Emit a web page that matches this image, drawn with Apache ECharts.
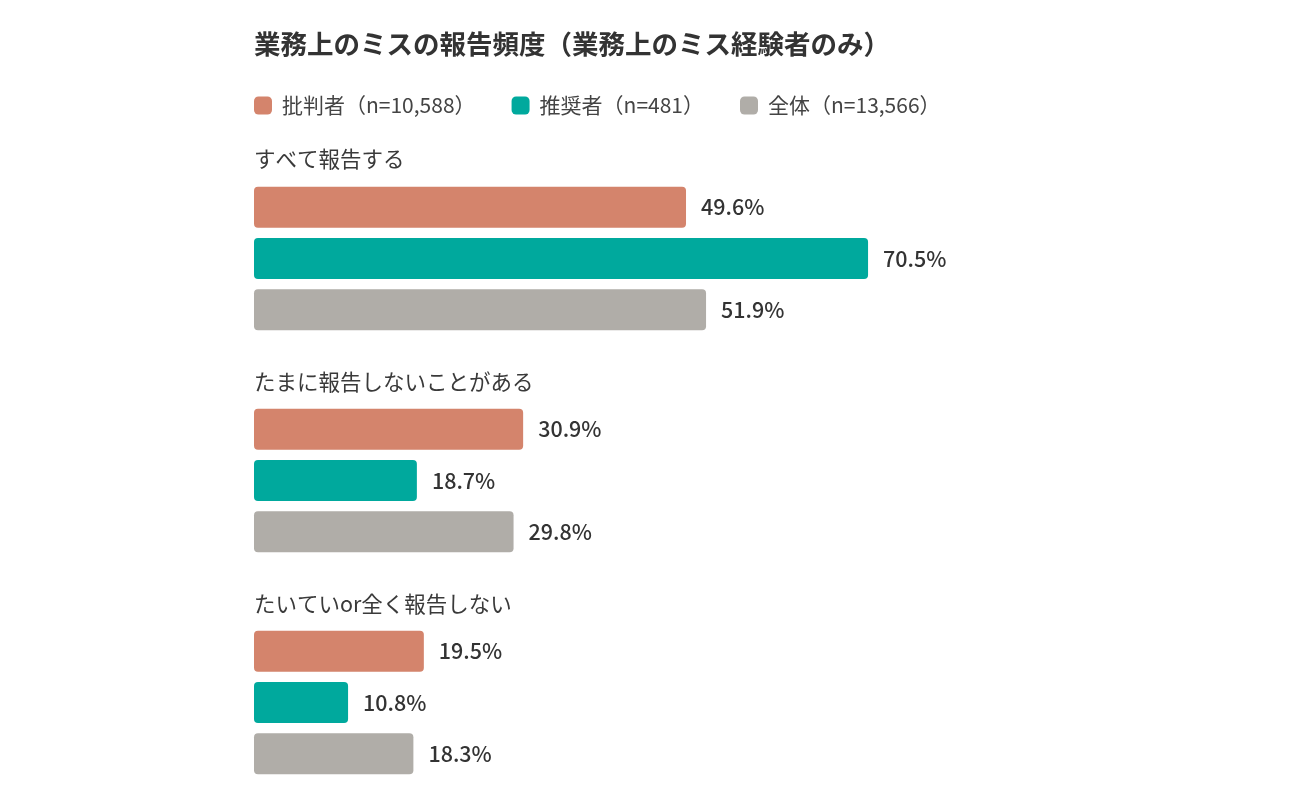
<!DOCTYPE html>
<html>
<head>
<meta charset="utf-8">
<script src="https://cdn.jsdelivr.net/npm/echarts@6/dist/echarts.min.js"></script>
<style>
    html, body { margin: 0; padding: 0; background: #ffffff; }
    #chart { width: 1300px; height: 800px; }
</style>
</head>
<body>
<div id="chart"></div>
<script>
// グループ(設問の選択肢)
const categories = ['すべて報告する', 'たまに報告しないことがある', 'たいていor全く報告しない']
// 凡例名
const seriesNames = ['批判者（n=10,588）', '推奨者（n=481）', '全体（n=13,566）']
// 各系列の値(%)
const critics = [49.6, 30.9, 19.5]
const promoters = [70.5, 18.7, 10.8]
const overall = [51.9, 29.8, 18.3]

const values = [critics, promoters, overall]
const colors = ['#d4846c', '#00a99d', '#b0ada8']
const font = '"Noto Sans CJK JP", "Noto Sans", sans-serif'

// グループごとのグリッド位置
const gridTops = [181, 403, 625]
const headerTops = [143, 366, 588]

const chart = echarts.init(document.getElementById('chart'))

const grids = []
const xAxes = []
const yAxes = []
const titles = [{
    text: '業務上のミスの報告頻度（業務上のミス経験者のみ）',
    left: 249,
    top: 26,
    textStyle: { fontFamily: font, fontSize: 26.5, fontWeight: 'bold', color: '#333333' }
}]
const series = []

categories.forEach((cat, g) => {
    grids.push({ left: 254, width: 871, top: gridTops[g], height: 155 })
    xAxes.push({ gridIndex: g, type: 'value', min: 0, max: 100, show: false })
    yAxes.push({ gridIndex: g, type: 'category', data: [cat], inverse: true, show: false })
    // 見出し
    titles.push({
        text: cat,
        left: 249,
        top: headerTops[g],
        textStyle: { fontFamily: font, fontSize: 21.5, fontWeight: 'normal', color: '#3a3a3a' }
    })
    values.forEach((vals, s) => {
        series.push({
            name: seriesNames[s],
            type: 'bar',
            xAxisIndex: g,
            yAxisIndex: g,
            data: [vals[g]],
            barWidth: 41,
            barGap: '25%',
            itemStyle: { color: colors[s], borderRadius: 4 },
            label: {
                show: true,
                position: 'right',
                distance: 15,
                formatter: '{c}%',
                fontFamily: font,
                fontSize: 21.5,
                fontWeight: 500,
                color: '#333333'
            }
        })
    })
})

chart.setOption({
    animation: false,
    color: colors,
    title: titles,
    legend: {
        data: seriesNames,
        left: 249,
        top: 90,
        icon: 'roundRect',
        itemWidth: 18,
        itemHeight: 18,
        itemGap: 36,
        textStyle: { fontFamily: font, fontSize: 21, color: '#444444', padding: [0, 0, 0, 5] }
    },
    grid: grids,
    xAxis: xAxes,
    yAxis: yAxes,
    series: series
})
</script>
</body>
</html>
